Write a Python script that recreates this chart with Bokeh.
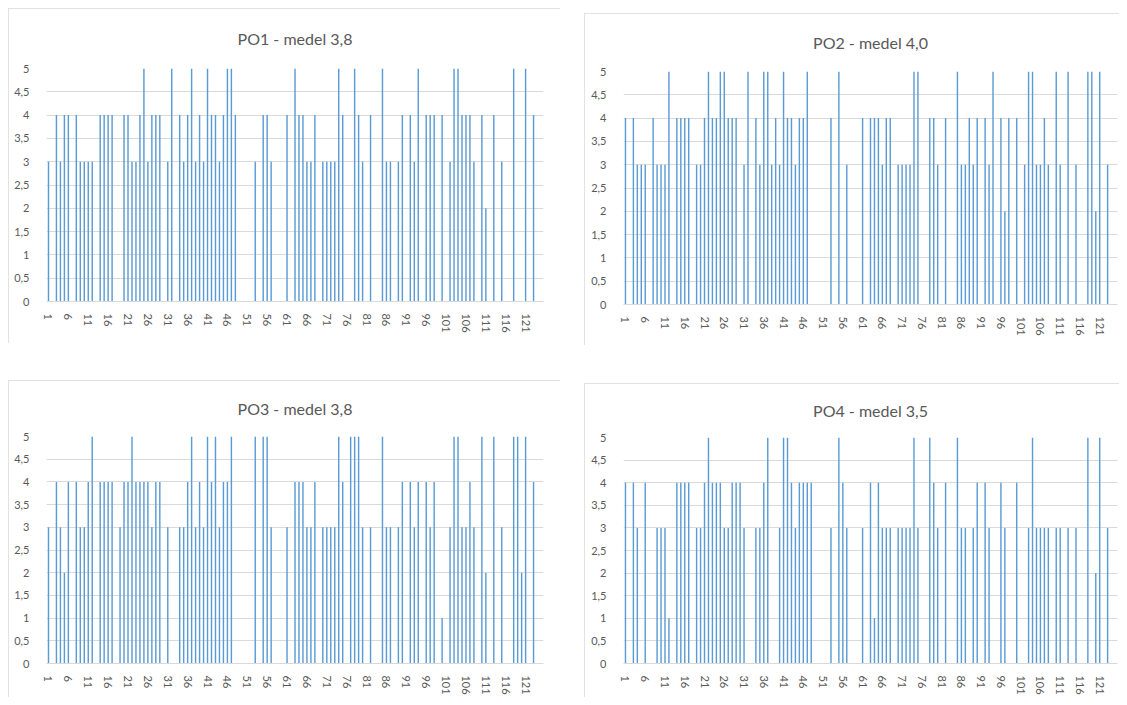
from bokeh.plotting import figure
from bokeh.layouts import row, column
from bokeh.models import Spacer, FixedTicker, Range1d, ColumnDataSource
from bokeh.embed import file_html
from bokeh.resources import INLINE

# ---- data ----
categories = [str(i) for i in range(1, 126)]
x_tick_labels = categories[::5]            # 1, 6, 11, ... 121
y_ticks = [0, 0.5, 1, 1.5, 2, 2.5, 3, 3.5, 4, 4.5, 5]
y_tick_labels = ["0", "0,5", "1", "1,5", "2", "2,5", "3", "3,5", "4", "4,5", "5"]

titles = ["PO1 - medel 3,8", "PO2 - medel 4,0", "PO3 - medel 3,8", "PO4 - medel 3,5"]

po1 = [3,0,4,3,4,4,0,4,3,3,3,3,0,4,4,4,4,0,0,4,4,3,3,4,5,
       3,4,4,4,0,3,5,0,4,3,4,5,3,4,3,5,4,4,3,4,5,5,4,0,0,
       0,0,3,0,4,4,3,0,0,0,4,0,5,4,4,3,3,4,0,3,3,3,3,5,4,
       0,0,5,4,3,0,4,0,0,5,3,3,0,3,4,0,4,3,5,0,4,4,4,0,4,
       0,3,5,5,4,4,4,3,0,4,2,0,4,0,3,0,0,5,0,0,5,0,4,0,0]

po2 = [4,0,4,3,3,3,0,4,3,3,3,5,0,4,4,4,4,0,3,3,4,5,4,4,5,
       5,4,4,4,0,3,5,0,4,3,5,5,3,4,3,5,4,4,3,4,4,5,0,0,0,
       0,0,4,0,5,0,3,0,0,0,4,0,4,4,4,3,4,4,0,3,3,3,3,5,5,
       0,0,4,4,3,0,4,0,0,5,3,3,4,3,4,0,4,3,5,0,4,2,4,0,4,
       0,3,5,5,3,3,4,3,0,5,3,0,5,0,3,0,0,5,5,2,5,0,3,0,0]

po3 = [3,0,4,3,2,4,0,4,3,3,4,5,0,4,4,4,4,0,3,4,4,5,4,4,4,
       4,3,4,4,0,3,0,0,3,3,4,5,3,4,3,5,4,5,3,4,4,5,0,0,0,
       0,0,5,0,5,5,3,0,0,0,3,0,4,4,4,3,3,4,0,3,3,3,3,5,4,
       0,5,5,5,3,0,3,0,0,5,3,3,0,3,4,0,4,3,4,0,4,3,4,0,1,
       0,3,5,5,3,3,4,3,0,5,2,0,5,0,3,0,0,5,5,2,5,0,4,0,0]

po4 = [4,0,4,3,0,4,0,0,3,3,3,1,0,4,4,4,4,0,3,3,4,5,4,4,4,
       3,3,4,4,4,3,0,0,3,3,4,5,0,0,3,5,5,4,3,4,4,4,4,0,0,
       0,0,3,0,5,4,3,0,0,0,3,0,4,1,4,3,3,3,0,3,3,3,3,5,3,
       0,0,5,4,3,0,4,0,0,5,3,3,0,3,4,0,4,3,0,0,4,3,0,0,4,
       0,0,3,5,3,3,3,3,0,3,3,0,3,0,3,0,0,5,0,2,5,0,3,0,0]

BAR = "#5B9BD5"
GRID = "#d9d9d9"
TXT = "#595959"
FONT = "Lato"


def make_chart(title, values, w, h, bl, br, bt, bb, standoff):
    n = len(categories)
    x = [i + 1 for i in range(n)]
    xs = [xi for xi, v in zip(x, values) if v > 0]
    vs = [v for v in values if v > 0]
    src = ColumnDataSource(dict(x=xs, top=vs))

    p = figure(width=w, height=h, output_backend="svg", toolbar_location=None,
               x_range=Range1d(0.5, n + 0.5), y_range=Range1d(0, 5),
               min_border_left=bl, min_border_right=br,
               min_border_top=bt, min_border_bottom=bb,
               styles={"outline": "1px solid #d9d9d9", "outline-offset": "-1px"})
    p.vbar(x="x", top="top", bottom=0, width=0.36, source=src,
           fill_color=BAR, line_color=None)

    p.title.text = title
    p.title.align = "center"
    p.title.vertical_align = "middle"
    p.title.text_font = FONT
    p.title.text_font_size = "16px"
    p.title.text_font_style = "normal"
    p.title.text_color = TXT
    p.title.standoff = standoff

    p.outline_line_color = None
    p.background_fill_color = "white"
    p.border_fill_color = "white"

    p.xgrid.grid_line_color = None
    p.ygrid.grid_line_color = GRID
    p.ygrid.ticker = FixedTicker(ticks=y_ticks)

    tick_pos = [categories.index(c) + 1 for c in x_tick_labels]
    p.xaxis.ticker = FixedTicker(ticks=tick_pos)
    p.xaxis.major_label_overrides = {pos: lab for pos, lab in zip(tick_pos, x_tick_labels)}
    p.xaxis.major_label_orientation = "vertical"
    p.xaxis.axis_line_color = GRID
    p.xaxis.major_tick_line_color = None
    p.xaxis.minor_tick_line_color = None
    p.xaxis.major_label_standoff = 6
    p.xaxis.major_label_text_font = FONT
    p.xaxis.major_label_text_font_size = "11px"
    p.xaxis.major_label_text_color = TXT

    p.yaxis.ticker = FixedTicker(ticks=y_ticks)
    p.yaxis.major_label_overrides = {t: lab for t, lab in zip(y_ticks, y_tick_labels)}
    p.yaxis.axis_line_color = None
    p.yaxis.major_tick_line_color = None
    p.yaxis.minor_tick_line_color = None
    p.yaxis.major_label_standoff = 11
    p.yaxis.major_label_text_font = FONT
    p.yaxis.major_label_text_font_size = "11px"
    p.yaxis.major_label_text_color = TXT
    return p


p1 = make_chart(titles[0], po1, 552, 335, 38, 17, 59, 42, 39)
p2 = make_chart(titles[1], po2, 535, 332, 39, 2, 57, 41, 37)
p3 = make_chart(titles[2], po3, 552, 317, 38, 16, 55, 26, 35)
p4 = make_chart(titles[3], po4, 535, 314, 39, 2, 53, 25, 33)

left = column(p1, Spacer(height=37), p3)
right = column(Spacer(height=5), p2, Spacer(height=38), p4)
charts = row(left, Spacer(width=24), right)
layout = column(Spacer(height=8), row(Spacer(width=8), charts))

open("out.html", "w").write(file_html(layout, INLINE))
